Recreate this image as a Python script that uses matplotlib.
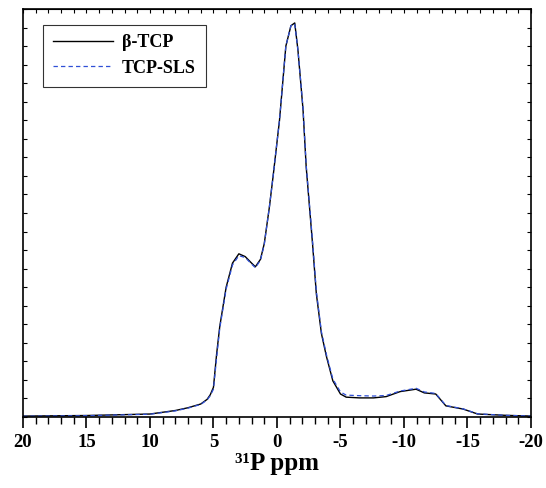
import matplotlib.pyplot as plt
from matplotlib.ticker import MultipleLocator

plt.rcParams['font.family'] = ['Liberation Serif', 'DejaVu Serif']
plt.rcParams['axes.unicode_minus'] = False

# chemical shift (ppm) and intensity
ppm = [20, 15, 10, 8, 7, 6, 5.5, 5.25, 5, 4.75, 4.5, 4, 3.5, 3, 2.5, 2, 1.7, 1.3, 1,
       0.6, 0.3, -0.2, -0.7, -1.1, -1.4, -1.65, -2.05, -2.3, -2.8, -3.1, -3.5, -3.9,
       -4.4, -5.0, -5.45, -6.5, -7.6, -8.6, -9.7, -10.95, -11.6, -12.5, -13.3, -14.65,
       -15.8, -18, -20]
tcp = [0.05, 0.08, 0.16, 0.35, 0.5, 0.7, 0.95, 1.2, 1.6, 3.4, 4.9, 7.0, 8.3, 8.8, 8.65,
       8.3, 8.1, 8.5, 9.35, 11.3, 13.0, 16.0, 20.0, 21.1, 21.25, 19.8, 16.6, 13.5, 9.35,
       6.65, 4.5, 3.25, 1.95, 1.24, 1.07, 1.03, 1.03, 1.1, 1.37, 1.5, 1.3, 1.24, 0.6,
       0.43, 0.16, 0.09, 0.05]
sls = [0.04, 0.07, 0.15, 0.33, 0.48, 0.68, 0.92, 1.15, 1.5, 3.2, 4.8, 6.9, 8.2, 8.7,
       8.6, 8.25, 8.05, 8.45, 9.3, 11.3, 13.0, 16.0, 20.0, 21.1, 21.2, 19.8, 16.7, 13.6,
       9.5, 6.8, 4.6, 3.35, 2.05, 1.35, 1.18, 1.15, 1.13, 1.16, 1.4, 1.55, 1.35, 1.27,
       0.62, 0.44, 0.17, 0.09, 0.05]

fig = plt.figure(figsize=(5.46, 4.88), dpi=100)
ax = fig.add_axes([0.042, 0.1455, 0.9305, 0.836])

ax.plot(ppm, tcp, color='black', lw=1.0, label='β-TCP')
ax.plot(ppm, sls, color='#2f4fd6', lw=0.9, ls=(0, (3.5, 2.5)), label='TCP-SLS')

ax.set_xlim(20, -20)
ax.set_ylim(0, 22)
ax.xaxis.set_major_locator(MultipleLocator(5))
ax.xaxis.set_minor_locator(MultipleLocator(1))
ax.yaxis.set_major_locator(MultipleLocator(1))
ax.tick_params(axis='x', which='major', direction='out', length=8, width=1.2,
               labelsize=13.5, pad=4)
ax.tick_params(axis='x', which='minor', direction='out', length=5, width=1.0)
ax.tick_params(axis='y', direction='in', length=3, width=0.8, left=True, right=True,
               labelleft=False)
for lab in ax.get_xticklabels():
    lab.set_fontweight('bold')
for s in ax.spines.values():
    s.set_linewidth(1.2)

top = ax.secondary_xaxis('top')
top.xaxis.set_major_locator(MultipleLocator(1))
top.tick_params(direction='in', length=3, width=0.8, labeltop=False)

ax.set_xlabel('³¹P ppm', fontsize=18, fontweight='bold', labelpad=1)

leg = ax.legend(loc='upper left', bbox_to_anchor=(0.04, 0.962), frameon=True,
                fancybox=False, edgecolor='black', handlelength=3.3,
                handletextpad=0.5, borderaxespad=0,
                prop={'weight': 'bold', 'size': 13}, borderpad=0.55, labelspacing=0.45)
leg.get_frame().set_linewidth(0.8)

fig.savefig('out.png', dpi=100)
